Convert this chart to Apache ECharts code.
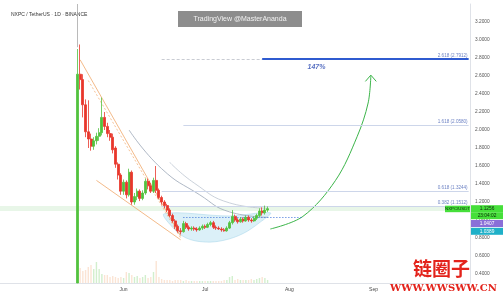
<!DOCTYPE html>
<html><head><meta charset="utf-8">
<script src="https://cdn.jsdelivr.net/npm/echarts@6/dist/echarts.min.js"></script>
<style>html,body{margin:0;padding:0;background:#fff}#c{width:503px;height:297px}</style>
</head><body><div id="c"></div>
<script>
// ---------- data ----------
const axisStart = '2025-04-17';
const axisEnd = '2025-10-06';
const candleStart = '2025-05-15';
// [open, close, low, high] daily candles, May 15 .. Jul 24
const ohlc = [
 [0.30,2.62,0.30,2.90],[2.62,2.56,2.45,2.95],[2.56,2.28,2.14,2.62],[2.28,1.98,1.92,2.34],
 [1.98,1.90,1.80,2.33],[1.90,1.82,1.77,1.96],[1.82,1.88,1.78,1.92],[1.88,1.93,1.84,1.97],
 [1.93,1.97,1.88,2.02],[1.97,2.14,1.94,2.36],[2.14,2.04,2.00,2.20],[2.04,1.96,1.92,2.08],
 [1.96,1.92,1.88,2.00],[1.92,1.78,1.74,1.96],[1.80,1.62,1.58,1.82],[1.62,1.50,1.45,1.64],
 [1.50,1.32,1.28,1.52],
 [1.32,1.42,1.28,1.45],[1.42,1.28,1.24,1.44],[1.28,1.53,1.26,1.57],[1.53,1.20,1.17,1.55],
 [1.20,1.26,1.17,1.30],[1.26,1.32,1.22,1.35],[1.32,1.24,1.21,1.34],[1.24,1.30,1.22,1.33],
 [1.30,1.43,1.28,1.46],[1.43,1.38,1.34,1.46],[1.38,1.32,1.30,1.41],[1.32,1.44,1.30,1.47],
 [1.44,1.33,1.30,1.60],[1.33,1.25,1.23,1.35],[1.25,1.20,1.17,1.27],[1.20,1.16,1.13,1.22],
 [1.16,1.11,1.09,1.18],[1.11,1.05,1.03,1.13],[1.05,0.99,0.97,1.07],[0.99,0.93,0.90,1.01],
 [0.93,0.88,0.86,0.95],[0.88,0.87,0.84,0.91],[0.87,0.96,0.86,0.99],[0.96,0.92,0.90,0.98],
 [0.92,0.90,0.88,0.94],[0.90,0.91,0.88,0.93],[0.91,0.90,0.88,0.93],[0.90,0.89,0.87,0.92],
 [0.89,0.91,0.88,0.93],[0.91,0.93,0.89,0.95],
 [0.93,0.92,0.90,0.95],[0.92,0.95,0.91,0.97],[0.95,0.97,0.93,0.99],[0.97,0.92,0.90,0.99],
 [0.92,0.91,0.89,0.94],[0.91,0.90,0.89,0.93],[0.90,0.89,0.87,0.92],[0.89,0.88,0.87,0.91],
 [0.88,0.91,0.87,0.93],[0.91,0.97,0.90,0.99],[0.97,1.04,0.95,1.11],[1.04,1.00,0.98,1.06],
 [1.00,0.98,0.96,1.02],[0.98,1.01,0.97,1.03],[1.01,0.99,0.97,1.03],[0.99,1.03,0.98,1.05],
 [1.03,1.00,0.98,1.05],[1.00,0.99,0.97,1.02],[0.99,1.02,0.98,1.04],[1.02,1.05,1.00,1.07],
 [1.05,1.10,1.03,1.13],[1.10,1.08,1.05,1.14],[1.08,1.11,1.06,1.16],[1.11,1.1256,1.09,1.15]
];
const volume = [
 30,15,12,13,16,18,14,21,14,9,8,8,6,7,6,5,6,
 5,11,10,8,6,7,5,6,8,5,6,11,22,6,4,3,3,3,2,3,3,3,2,3,2,2,2,2,2,2,
 2,2,2,2,2,2,2,3,3,6,7,3,4,3,3,3,3,4,3,4,5,6,5,3
];
const priceTicks = [0.4,0.6,0.8,1.0,1.2,1.4,1.6,1.8,2.0,2.2,2.4,2.6,2.8,3.0,3.2];
const monthTicks = ['2025-06-01','2025-07-01','2025-08-01','2025-09-01'];
const monthNames = ['Jan','Feb','Mar','Apr','May','Jun','Jul','Aug','Sep','Oct','Nov','Dec'];
const fibLevels = [
 {name:'2.618 (2.7912)', price:2.7912, from:'2025-07-22', color:'#2f5bd0', width:2},
 {name:'1.618 (2.0580)', price:2.0580, from:'2025-06-23', color:'#cdd6ea', width:1},
 {name:'0.618 (1.3244)', price:1.3244, from:'2025-06-15', color:'#cdd6ea', width:1},
 {name:'0.382 (1.1512)', price:1.1512, from:'2025-06-15', color:'#cdd6ea', width:1}
];
const targetGuide = {price:2.7912, from:'2025-06-15', to:'2025-07-22'};
const supportDotted = {price:1.035, from:'2025-06-23', to:'2025-08-06'};
const band = [1.10, 1.156];
const wedgeUpper = [['2025-05-16',2.78],['2025-06-22',0.82]];
const wedgeUpperDot = [['2025-05-19',2.55],['2025-06-22',0.80]];
const wedgeLower = [['2025-05-22',1.44],['2025-06-22',0.78]];
const maShort = [['2025-06-03',2.00],['2025-06-15',1.57],['2025-06-29',1.28],['2025-07-10',1.09],['2025-07-24',1.03]];
const maLong = [['2025-06-18',1.64],['2025-06-27',1.41],['2025-07-10',1.19],['2025-07-24',1.13]];
const cupShape = [['2025-06-16',1.07],['2025-06-19',0.92],['2025-06-24',0.80],['2025-07-01',0.755],
 ['2025-07-08',0.775],['2025-07-15',0.85],['2025-07-21',0.97],['2025-07-25',1.08],['2025-07-10',1.045]];
const arrowPath = [['2025-07-25',0.90],['2025-08-06',1.04],['2025-08-18',1.44],['2025-08-26',1.93],['2025-08-30',2.30],['2025-08-31',2.60]];
const arrowHead = [['2025-08-29',2.54],['2025-08-31',2.61],['2025-09-02',2.54]];
const gainLabel = {text:'147%', at:['2025-08-11',2.70]};
const listingLine = [['2025-05-15',3.4],['2025-05-15',2.92]];
const sideTags = [
 {text:'1.1256', bg:'#46df3a', fg:'#0e2a0e'},
 {text:'23:04:02', bg:'#46df3a', fg:'#0e2a0e'},
 {text:'1.0407', bg:'#8a6fd8', fg:'#ffffff'},
 {text:'1.0389', bg:'#1fb0c8', fg:'#ffffff'}
];

// ---------- helpers ----------
const DAY = 86400000;
function parseD(s){const p=s.split('-').map(Number);return Date.UTC(p[0],p[1]-1,p[2]);}
function fmtD(t){const d=new Date(t);return d.getUTCFullYear()+'-'+String(d.getUTCMonth()+1).padStart(2,'0')+'-'+String(d.getUTCDate()).padStart(2,'0');}
const categories = [];
for(let t=parseD(axisStart);t<=parseD(axisEnd);t+=DAY) categories.push(fmtD(t));
const ci = {}; categories.forEach((c,i)=>ci[c]=i);
const P = pts => pts.map(p=>[ci[p[0]],p[1]]);
const UP='#52c23e', DN='#e8372c';
const candleData=[], volData=[];
ohlc.forEach((r,i)=>{
  const k = ci[fmtD(parseD(candleStart)+i*DAY)];
  candleData.push([k,r[0],r[1],r[2],r[3]]);
  const up = r[1]>=r[0];
  volData.push({value:[k,volume[i]], itemStyle:{color: up?'rgba(82,194,62,0.26)':'rgba(240,150,90,0.26)'}});
});
const lastClose = ohlc[ohlc.length-1][1];
const FONT='Liberation Sans';

function lineSeries(pts, color, width, type, smooth, z){
  return {type:'line', data:P(pts), symbol:'none', silent:true, smooth:smooth||false, z:z||3,
    lineStyle:{color, width, type:type||'solid'}, animation:false};
}

const mlData = [];
mlData.push([{coord:[ci[targetGuide.from],targetGuide.price], lineStyle:{color:'#c9ccd3',width:1,type:[3,2]}, label:{show:false}},
             {coord:[ci[targetGuide.to],targetGuide.price]}]);
fibLevels.forEach(f=>{
  mlData.push([{coord:[ci[f.from],f.price], lineStyle:{color:f.color,width:f.width,type:'solid'},
    label:{show:true, formatter:f.name, position:'insideEndTop', distance:1, fontSize:4.6, color:'#6e83c4', fontFamily:FONT}},
    {coord:[categories.length-1,f.price]}]);
});
mlData.push([{coord:[ci[supportDotted.from],supportDotted.price], lineStyle:{color:'#3a6fd8',width:1,type:[1,2]}, label:{show:false}},
             {coord:[ci[supportDotted.to],supportDotted.price]}]);
mlData.push([{coord:P(listingLine)[0], lineStyle:{color:'#a8a8a8',width:0.8,type:'solid'}, label:{show:false}},
             {coord:P(listingLine)[1]}]);

const option = {
  animation:false,
  backgroundColor:'#ffffff',
  grid:{left:0, right:33, top:4, bottom:14, containLabel:false, outerBoundsMode:'none'},
  xAxis:{type:'category', data:categories, boundaryGap:true,
    axisLine:{show:true, lineStyle:{color:'#dfe2e8'}}, axisTick:{show:false}, splitLine:{show:false},
    axisLabel:{interval:(i,v)=>monthTicks.indexOf(v)>=0, formatter:v=>monthNames[+v.slice(5,7)-1],
      fontSize:5, color:'#4a4a4a', margin:4, fontFamily:FONT}},
  yAxis:[
    {type:'value', position:'right', min:0.3, max:3.4, splitLine:{show:false},
     axisLine:{show:true, lineStyle:{color:'#dfe2e8'}}, axisTick:{show:false},
     axisLabel:{customValues:priceTicks, formatter:v=>v.toFixed(4), fontSize:4.8, color:'#555', margin:5, fontFamily:FONT}},
    {type:'value', min:0, max:279, show:false}
  ],
  series:[
    {type:'custom', z:1, silent:true, data:[[0,0]],
     renderItem:(params,api)=>({type:'polygon', shape:{points:P(cupShape).map(p=>api.coord(p)), smooth:0.35},
       style:{fill:'rgba(190,228,242,0.55)', stroke:'rgba(150,205,228,0.7)', lineWidth:0.6}})},
    {type:'bar', yAxisIndex:1, data:volData, barWidth:1.4, silent:true, z:2},
    lineSeries(wedgeUpper,'#f2b27c',0.9,'solid',false,3),
    lineSeries(wedgeUpperDot,'#f2b27c',0.8,[2,2],false,3),
    lineSeries(wedgeLower,'#f2b27c',0.9,'solid',false,3),
    lineSeries(maShort,'#9aa6b6',0.8,'solid',true,3),
    lineSeries(maLong,'#bcc5d1',0.8,'solid',true,3),
    lineSeries(arrowPath,'#3cb54a',1,'solid',0.35,4),
    lineSeries(arrowHead,'#3cb54a',1,'solid',false,4),
    {type:'scatter', data:[P([gainLabel.at])[0]], symbolSize:0, silent:true, z:5,
     label:{show:true, position:'inside', formatter:gainLabel.text, fontSize:7, fontWeight:'bold', fontStyle:'italic', color:'#2f4db3', fontFamily:FONT}},
    {type:'candlestick', data:candleData, encode:{x:0, y:[1,2,3,4]}, barWidth:2.5, z:5,
     itemStyle:{color:UP, color0:DN, borderColor:UP, borderColor0:DN, borderWidth:0.8},
     markArea:{silent:true, itemStyle:{color:'rgba(130,205,130,0.18)'}, data:[[{yAxis:band[0]},{yAxis:band[1]}]]},
     markLine:{silent:true, symbol:['none','none'], animation:false, data:mlData}}
  ]
};

const chart = echarts.init(document.getElementById('c'));
chart.setOption(option);

const y0 = chart.convertToPixel({yAxisIndex:0}, lastClose);
const gfx = [
  {type:'text', left:11, top:12, style:{text:'NXPC / TetherUS · 1D · BINANCE', fontSize:5, fill:'#333', fontFamily:FONT}},
  {type:'rect', shape:{x:178,y:11,width:124,height:16}, style:{fill:'#8d8d8d'}},
  {type:'text', x:240, y:19, style:{text:'TradingView @MasterAnanda', fontSize:7, fill:'#f2f2f2', align:'center', verticalAlign:'middle', fontFamily:FONT}},
  {type:'rect', shape:{x:445,y:y0-3,width:25,height:6.5}, style:{fill:'#46df3a'}, z:20},
  {type:'text', x:457.5, y:y0+0.3, style:{text:'NXPC/USDT', fontSize:4.3, fill:'#0e2a0e', align:'center', verticalAlign:'middle', fontFamily:FONT}, z:21},
  {type:'text', x:413, y:259, style:{text:'链圈子', fontSize:19, fontWeight:'bold', fill:'#e3231b', fontFamily:'Noto Sans CJK SC'}, z:30},
  {type:'text', x:390, y:283, style:{text:'WWW.WWSWW.CN', fontSize:10, fontWeight:'bold', fill:'#e3231b', fontFamily:'DejaVu Serif'}, z:30}
];
let ty = y0 - 3.5;
sideTags.forEach((t,i)=>{
  const h = 7;
  gfx.push({type:'rect', shape:{x:471,y:ty,width:32,height:h}, style:{fill:t.bg}, z:20});
  gfx.push({type:'text', x:487, y:ty+h/2+0.3, style:{text:t.text, fontSize:4.8, fill:t.fg, align:'center', verticalAlign:'middle', fontFamily:FONT}, z:21});
  ty += h + (i===0?0:0.8);
});
chart.setOption({graphic:gfx});
</script></body></html>
